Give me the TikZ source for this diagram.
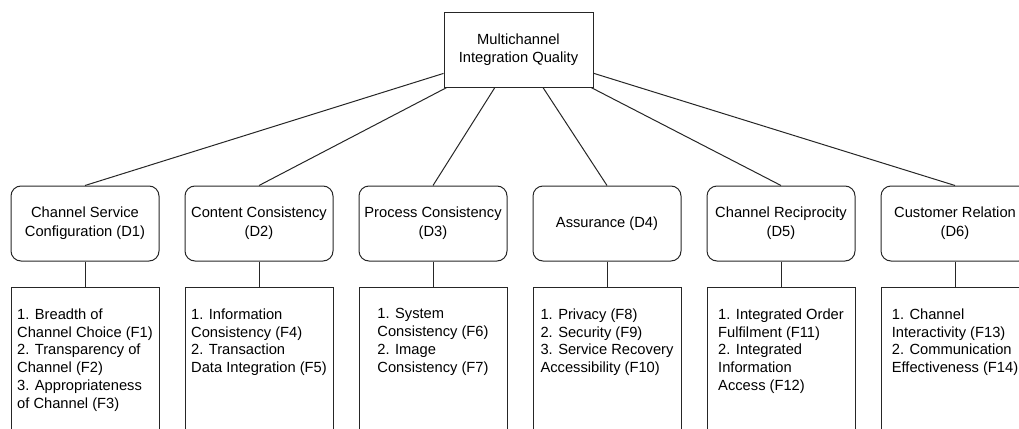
\documentclass[tikz,border=0pt]{standalone}
\usepackage{fontspec}
\setmainfont{Liberation Sans}
\usepackage{tikz}
\usetikzlibrary{positioning}
\tikzset{
  qualbox/.style = {
    rectangle, draw=black!85, line width=1pt,
    minimum width=149pt, minimum height=74pt, inner sep=3pt,
    align=center, font=\fontsize{14.7}{18.3}\selectfont
  },
  dimbox/.style = {
    rectangle, rounded corners=10pt,
    draw=black!85, line width=1pt,
    minimum width=148pt, minimum height=75pt, inner sep=3pt,
    align=center, font=\fontsize{14.7}{19}\selectfont
  },
  facbox/.style = {
    rectangle, draw=black!85, line width=1pt,
    minimum width=148pt, minimum height=200pt
  },
  factxt/.style = {
    anchor=north, inner sep=0pt,
    align=left, font=\fontsize{14.7}{17.8}\selectfont
  },
  link/.style = {draw=black!85, line width=1pt},
}
\begin{document}
\begin{tikzpicture}[x=1pt, y=1pt, node distance=25pt]

  \useasboundingbox (0,0) rectangle (1019,-428);
  \clip (0,0) rectangle (1019,-428);

  \node[qualbox] (mcq) at (518.5,-50) {Multichannel\\Integration Quality};

  \node[dimbox] (d1) at (85,-223.5) {Channel Service\\Configuration (D1)};
  \node[dimbox, right=25pt of d1] (d2) {Content Consistency\\(D2)};
  \node[dimbox, right=25pt of d2] (d3) {Process Consistency\\(D3)};
  \node[dimbox, right=25pt of d3] (d4) {Assurance (D4)};
  \node[dimbox, right=25pt of d4] (d5) {Channel Reciprocity\\(D5)};
  \node[dimbox, right=25pt of d5] (d6) {Customer Relation\\(D6)};

  \node[facbox, below=25pt of d1] (f1) {};
  \node[facbox, below=25pt of d2] (f2) {};
  \node[facbox, below=25pt of d3] (f3) {};
  \node[facbox, below=25pt of d4] (f4) {};
  \node[facbox, below=25pt of d5] (f5) {};
  \node[facbox, below=25pt of d6] (f6) {};

  \node[factxt, below=22pt of f1.north] (t1) {1. Breadth of\\Channel Choice (F1)\\2. Transparency of\\Channel (F2)\\3. Appropriateness\\of Channel (F3)};
  \node[factxt, below=22pt of f2.north] (t2) {1. Information\\Consistency (F4)\\2. Transaction\\Data Integration (F5)};
  \node[factxt, below=22pt of f3.north] (t3) {1. System\\Consistency (F6)\\2. Image\\Consistency (F7)};
  \node[factxt, below=22pt of f4.north] (t4) {1. Privacy (F8)\\2. Security (F9)\\3. Service Recovery\\Accessibility (F10)};
  \node[factxt, below=22pt of f5.north] (t5) {1. Integrated Order\\Fulfilment (F11)\\2. Integrated\\Information\\Access (F12)};
  \node[factxt, below=22pt of f6.north] (t6) {1. Channel\\Interactivity (F13)\\2. Communication\\Effectiveness (F14)};

  \draw[link] (mcq) -- (d1.north);
  \draw[link] (mcq) -- (d2.north);
  \draw[link] (mcq) -- (d3.north);
  \draw[link] (mcq) -- (d4.north);
  \draw[link] (mcq) -- (d5.north);
  \draw[link] (mcq) -- (d6.north);

  \draw[link] (d1) -- (f1);
  \draw[link] (d2) -- (f2);
  \draw[link] (d3) -- (f3);
  \draw[link] (d4) -- (f4);
  \draw[link] (d5) -- (f5);
  \draw[link] (d6) -- (f6);

\end{tikzpicture}
\end{document}
